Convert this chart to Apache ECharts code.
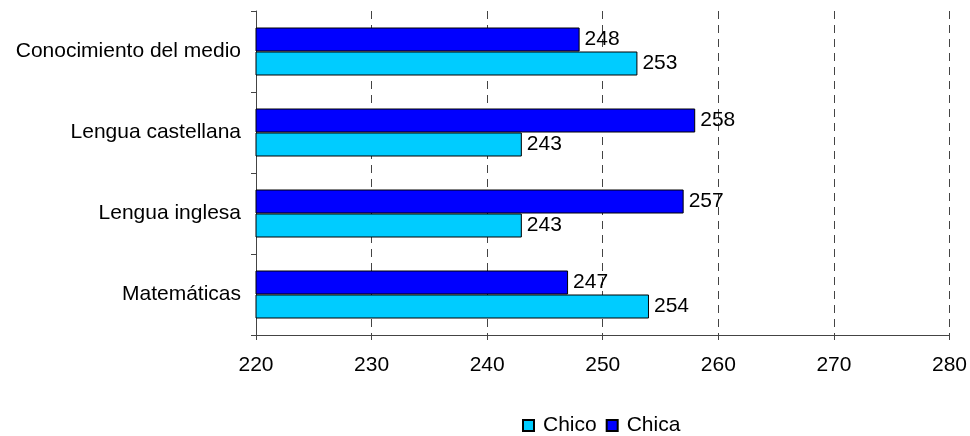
<!DOCTYPE html>
<html><head><meta charset="utf-8">
<script src="https://cdn.jsdelivr.net/npm/echarts@6/dist/echarts.min.js"></script>
<style>html,body{margin:0;padding:0;background:#fff}#c{width:970px;height:436px}</style>
</head><body><div id="c"></div>
<script>
const categories = ['Matemáticas', 'Lengua inglesa', 'Lengua castellana', 'Conocimiento del medio'];
const chico = [254, 243, 243, 253];
const chica = [247, 257, 258, 248];
const xTicks = [220, 230, 240, 250, 260, 270, 280];

const font = 'Liberation Sans, Arial, sans-serif';
const fs = 21;
const chart = echarts.init(document.getElementById('c'));
const lbl = {show: true, position: 'right', color: '#000', fontSize: fs, fontFamily: font, distance: 5};
chart.setOption({
  animation: false,
  grid: {left: 256, right: 20, top: 11, bottom: 101, containLabel: false},
  legend: {
    data: ['Chico', 'Chica'], left: 522, top: 415, padding: 0, itemWidth: 11, itemHeight: 11, itemGap: 9,
    textStyle: {fontSize: fs, fontFamily: font, color: '#000', padding: [0, 0, 0, 4]},
    icon: 'rect'
  },
  xAxis: {
    type: 'value', min: xTicks[0], max: xTicks[xTicks.length - 1], interval: 10,
    axisLine: {show: true, lineStyle: {color: '#444', width: 1}},
    axisTick: {show: true, length: 5, lineStyle: {color: '#444'}},
    axisLabel: {fontSize: fs, fontFamily: font, color: '#000', margin: 20},
    splitLine: {show: true, lineStyle: {color: '#444', type: [8, 6], width: 1}}
  },
  yAxis: {
    type: 'category', data: categories,
    axisLine: {show: true, lineStyle: {color: '#444', width: 1}},
    axisTick: {show: true, length: 5, lineStyle: {color: '#444'}},
    axisLabel: {fontSize: fs, fontFamily: font, color: '#000', margin: 15}
  },
  series: [
    {name: 'Chica', type: 'bar', data: chica, barWidth: 24, barGap: '0%',
     itemStyle: {color: '#0000FF', borderColor: '#000', borderWidth: 1}, label: lbl},
    {name: 'Chico', type: 'bar', data: chico, barWidth: 24, barGap: '0%',
     itemStyle: {color: '#00CCFF', borderColor: '#000', borderWidth: 1}, label: lbl}
  ]
});
</script></body></html>
